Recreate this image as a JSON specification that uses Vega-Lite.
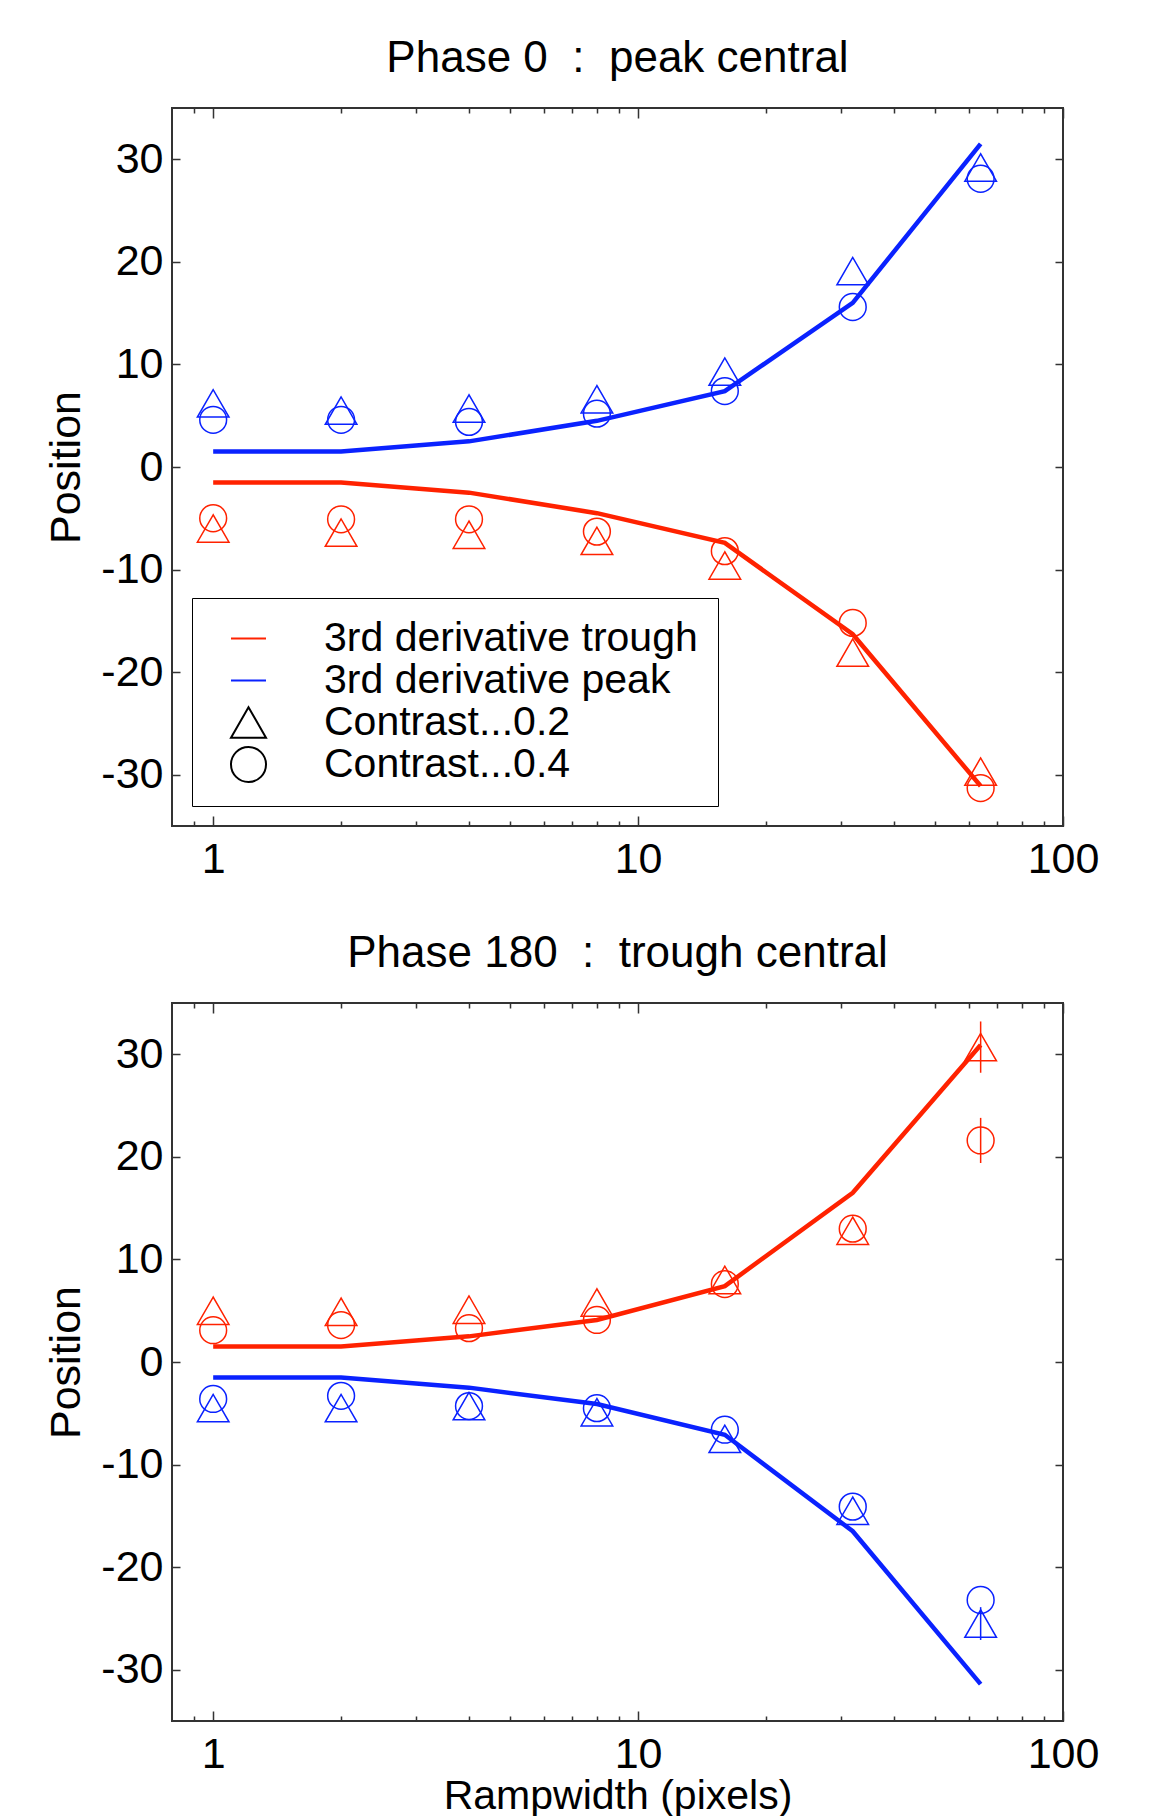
{
  "$schema": "https://vega.github.io/schema/vega-lite/v6.json",
  "background": "white",
  "padding": {"left": 44, "top": 36, "right": 5, "bottom": 0},
  "config": {
    "font": "Liberation Sans",
    "view": {"stroke": "#333333", "strokeWidth": 2},
    "axis": {"domain": false, "ticks": false, "labelFont": "Liberation Sans", "labelFontSize": 43, "labelColor": "black", "titleFont": "Liberation Sans", "titleFontSize": 43, "titleFontWeight": "normal", "titleColor": "black", "gridColor": "#333333", "gridWidth": 1.5, "gridOpacity": 1},
    "title": {"font": "Liberation Sans", "fontSize": 44, "fontWeight": "normal", "color": "black"},
    "legend": {"orient": "bottom-left", "offset": 20, "symbolSize": 1225, "symbolStrokeWidth": 2, "symbolOffset": 16,
      "labelFont": "Liberation Sans", "labelFontSize": 41, "labelColor": "black", "labelLimit": 0, "labelOffset": 55,
      "rowPadding": 0, "padding": 20, "strokeColor": "black", "fillColor": "white"}
  },
  "datasets": {
    "theory": [
      {"panel": 0, "x": 1, "series": "3rd derivative trough", "y": -1.5},
      {"panel": 0, "x": 2, "series": "3rd derivative trough", "y": -1.5},
      {"panel": 0, "x": 4, "series": "3rd derivative trough", "y": -2.5},
      {"panel": 0, "x": 8, "series": "3rd derivative trough", "y": -4.5},
      {"panel": 0, "x": 16, "series": "3rd derivative trough", "y": -7.4},
      {"panel": 0, "x": 32, "series": "3rd derivative trough", "y": -16.3},
      {"panel": 0, "x": 64, "series": "3rd derivative trough", "y": -31.1},
      {"panel": 0, "x": 1, "series": "3rd derivative peak", "y": 1.5},
      {"panel": 0, "x": 2, "series": "3rd derivative peak", "y": 1.5},
      {"panel": 0, "x": 4, "series": "3rd derivative peak", "y": 2.5},
      {"panel": 0, "x": 8, "series": "3rd derivative peak", "y": 4.5},
      {"panel": 0, "x": 16, "series": "3rd derivative peak", "y": 7.4},
      {"panel": 0, "x": 32, "series": "3rd derivative peak", "y": 16.0},
      {"panel": 0, "x": 64, "series": "3rd derivative peak", "y": 31.5},
      {"panel": 180, "x": 1, "series": "3rd derivative trough", "y": 1.5},
      {"panel": 180, "x": 2, "series": "3rd derivative trough", "y": 1.5},
      {"panel": 180, "x": 4, "series": "3rd derivative trough", "y": 2.5},
      {"panel": 180, "x": 8, "series": "3rd derivative trough", "y": 4.1},
      {"panel": 180, "x": 16, "series": "3rd derivative trough", "y": 7.4},
      {"panel": 180, "x": 32, "series": "3rd derivative trough", "y": 16.5},
      {"panel": 180, "x": 64, "series": "3rd derivative trough", "y": 30.9},
      {"panel": 180, "x": 1, "series": "3rd derivative peak", "y": -1.5},
      {"panel": 180, "x": 2, "series": "3rd derivative peak", "y": -1.5},
      {"panel": 180, "x": 4, "series": "3rd derivative peak", "y": -2.5},
      {"panel": 180, "x": 8, "series": "3rd derivative peak", "y": -4.1},
      {"panel": 180, "x": 16, "series": "3rd derivative peak", "y": -7.1},
      {"panel": 180, "x": 32, "series": "3rd derivative peak", "y": -16.5},
      {"panel": 180, "x": 64, "series": "3rd derivative peak", "y": -31.4}
    ],
    "obs": [
      {"panel": 0, "x": 1, "series": "3rd derivative peak", "contrast": "Contrast...0.2", "y": 6.2},
      {"panel": 0, "x": 2, "series": "3rd derivative peak", "contrast": "Contrast...0.2", "y": 5.5},
      {"panel": 0, "x": 4, "series": "3rd derivative peak", "contrast": "Contrast...0.2", "y": 5.7},
      {"panel": 0, "x": 8, "series": "3rd derivative peak", "contrast": "Contrast...0.2", "y": 6.6},
      {"panel": 0, "x": 16, "series": "3rd derivative peak", "contrast": "Contrast...0.2", "y": 9.3},
      {"panel": 0, "x": 32, "series": "3rd derivative peak", "contrast": "Contrast...0.2", "y": 19.1},
      {"panel": 0, "x": 64, "series": "3rd derivative peak", "contrast": "Contrast...0.2", "y": 29.2},
      {"panel": 0, "x": 1, "series": "3rd derivative peak", "contrast": "Contrast...0.4", "y": 4.6},
      {"panel": 0, "x": 2, "series": "3rd derivative peak", "contrast": "Contrast...0.4", "y": 4.6},
      {"panel": 0, "x": 4, "series": "3rd derivative peak", "contrast": "Contrast...0.4", "y": 4.4},
      {"panel": 0, "x": 8, "series": "3rd derivative peak", "contrast": "Contrast...0.4", "y": 5.2},
      {"panel": 0, "x": 16, "series": "3rd derivative peak", "contrast": "Contrast...0.4", "y": 7.4},
      {"panel": 0, "x": 32, "series": "3rd derivative peak", "contrast": "Contrast...0.4", "y": 15.6},
      {"panel": 0, "x": 64, "series": "3rd derivative peak", "contrast": "Contrast...0.4", "y": 28.1},
      {"panel": 0, "x": 1, "series": "3rd derivative trough", "contrast": "Contrast...0.2", "y": -6.0},
      {"panel": 0, "x": 2, "series": "3rd derivative trough", "contrast": "Contrast...0.2", "y": -6.4},
      {"panel": 0, "x": 4, "series": "3rd derivative trough", "contrast": "Contrast...0.2", "y": -6.6},
      {"panel": 0, "x": 8, "series": "3rd derivative trough", "contrast": "Contrast...0.2", "y": -7.2},
      {"panel": 0, "x": 16, "series": "3rd derivative trough", "contrast": "Contrast...0.2", "y": -9.6},
      {"panel": 0, "x": 32, "series": "3rd derivative trough", "contrast": "Contrast...0.2", "y": -18.1},
      {"panel": 0, "x": 64, "series": "3rd derivative trough", "contrast": "Contrast...0.2", "y": -29.7},
      {"panel": 0, "x": 1, "series": "3rd derivative trough", "contrast": "Contrast...0.4", "y": -5.0},
      {"panel": 0, "x": 2, "series": "3rd derivative trough", "contrast": "Contrast...0.4", "y": -5.1},
      {"panel": 0, "x": 4, "series": "3rd derivative trough", "contrast": "Contrast...0.4", "y": -5.1},
      {"panel": 0, "x": 8, "series": "3rd derivative trough", "contrast": "Contrast...0.4", "y": -6.3},
      {"panel": 0, "x": 16, "series": "3rd derivative trough", "contrast": "Contrast...0.4", "y": -8.2},
      {"panel": 0, "x": 32, "series": "3rd derivative trough", "contrast": "Contrast...0.4", "y": -15.2},
      {"panel": 0, "x": 64, "series": "3rd derivative trough", "contrast": "Contrast...0.4", "y": -31.3},
      {"panel": 180, "x": 1, "series": "3rd derivative trough", "contrast": "Contrast...0.2", "y": 5.0},
      {"panel": 180, "x": 2, "series": "3rd derivative trough", "contrast": "Contrast...0.2", "y": 4.9},
      {"panel": 180, "x": 4, "series": "3rd derivative trough", "contrast": "Contrast...0.2", "y": 5.1},
      {"panel": 180, "x": 8, "series": "3rd derivative trough", "contrast": "Contrast...0.2", "y": 5.8},
      {"panel": 180, "x": 16, "series": "3rd derivative trough", "contrast": "Contrast...0.2", "y": 8.0},
      {"panel": 180, "x": 32, "series": "3rd derivative trough", "contrast": "Contrast...0.2", "y": 12.8},
      {"panel": 180, "x": 64, "series": "3rd derivative trough", "contrast": "Contrast...0.2", "y": 30.7, "lo": 28.2, "hi": 33.2},
      {"panel": 180, "x": 1, "series": "3rd derivative trough", "contrast": "Contrast...0.4", "y": 3.1},
      {"panel": 180, "x": 2, "series": "3rd derivative trough", "contrast": "Contrast...0.4", "y": 3.6},
      {"panel": 180, "x": 4, "series": "3rd derivative trough", "contrast": "Contrast...0.4", "y": 3.3},
      {"panel": 180, "x": 8, "series": "3rd derivative trough", "contrast": "Contrast...0.4", "y": 4.1},
      {"panel": 180, "x": 16, "series": "3rd derivative trough", "contrast": "Contrast...0.4", "y": 7.6},
      {"panel": 180, "x": 32, "series": "3rd derivative trough", "contrast": "Contrast...0.4", "y": 13.0},
      {"panel": 180, "x": 64, "series": "3rd derivative trough", "contrast": "Contrast...0.4", "y": 21.6, "lo": 19.4, "hi": 23.8},
      {"panel": 180, "x": 1, "series": "3rd derivative peak", "contrast": "Contrast...0.2", "y": -4.5},
      {"panel": 180, "x": 2, "series": "3rd derivative peak", "contrast": "Contrast...0.2", "y": -4.5},
      {"panel": 180, "x": 4, "series": "3rd derivative peak", "contrast": "Contrast...0.2", "y": -4.3},
      {"panel": 180, "x": 8, "series": "3rd derivative peak", "contrast": "Contrast...0.2", "y": -4.9},
      {"panel": 180, "x": 16, "series": "3rd derivative peak", "contrast": "Contrast...0.2", "y": -7.5},
      {"panel": 180, "x": 32, "series": "3rd derivative peak", "contrast": "Contrast...0.2", "y": -14.5},
      {"panel": 180, "x": 64, "series": "3rd derivative peak", "contrast": "Contrast...0.2", "y": -25.5, "lo": -27.1, "hi": -23.9},
      {"panel": 180, "x": 1, "series": "3rd derivative peak", "contrast": "Contrast...0.4", "y": -3.6},
      {"panel": 180, "x": 2, "series": "3rd derivative peak", "contrast": "Contrast...0.4", "y": -3.3},
      {"panel": 180, "x": 4, "series": "3rd derivative peak", "contrast": "Contrast...0.4", "y": -4.3},
      {"panel": 180, "x": 8, "series": "3rd derivative peak", "contrast": "Contrast...0.4", "y": -4.5},
      {"panel": 180, "x": 16, "series": "3rd derivative peak", "contrast": "Contrast...0.4", "y": -6.6},
      {"panel": 180, "x": 32, "series": "3rd derivative peak", "contrast": "Contrast...0.4", "y": -14.1},
      {"panel": 180, "x": 64, "series": "3rd derivative peak", "contrast": "Contrast...0.4", "y": -23.2}
    ]
  },
  "spacing": 49,
  "resolve": {"scale": {"color": "independent", "shape": "independent", "size": "independent"}, "legend": {"color": "independent", "shape": "independent", "size": "independent"}},
  "vconcat": [
    {
      "width": 891,
      "height": 718,
      "title": {"text": "Phase 0\u00a0\u00a0:\u00a0\u00a0peak central", "offset": 27},
      "layer": [
        {
          "data": {"name": "theory"},
          "transform": [{"filter": "datum.panel == 0"}],
          "mark": {"type": "line", "strokeWidth": 4.5},
          "encoding": {
            "x": {"field": "x", "type": "quantitative", "scale": {"type": "log", "domain": [0.8, 100], "nice": false},
              "axis": {"orient": "bottom", "title": null, "values": [0.9, 1, 2, 3, 4, 5, 6, 7, 8, 9, 10, 20, 30, 40, 50, 60, 70, 80, 90, 100],
                "labelExpr": "indexof([1,10,100], datum.value) >= 0 ? datum.value + '' : ''",
                "grid": true,
                "gridDash": {"condition": {"test": "indexof([1,10,100], datum.value) >= 0", "value": [10, 698]}, "value": [5, 708]},
                "labelPadding": 12, "labelOverlap": false, "labelFlush": false}},
            "y": {"field": "y", "type": "quantitative", "scale": {"domain": [-35, 35], "nice": false, "zero": false},
              "axis": {"orient": "left", "title": "Position", "values": [-30, -20, -10, 0, 10, 20, 30], "labelExpr": "datum.value + ''",
                "grid": true, "gridDash": [8, 875], "labelPadding": 9, "titlePadding": 12}},
            "color": {"field": "series", "type": "nominal",
              "scale": {"domain": ["3rd derivative trough", "3rd derivative peak", "Contrast...0.2", "Contrast...0.4"], "range": ["#ff2200", "#0a22ff", "#000000", "#000000"]},
              "legend": {"title": null}}
          }
        },
        {
          "data": {"name": "obs"},
          "transform": [{"filter": "datum.panel == 0"}],
          "mark": {"type": "point", "filled": false, "strokeWidth": 1.5, "opacity": 1},
          "encoding": {
            "x": {"field": "x", "type": "quantitative"},
            "y": {"field": "y", "type": "quantitative"},
            "color": {"field": "series", "type": "nominal",
              "scale": {"domain": ["3rd derivative trough", "3rd derivative peak", "Contrast...0.2", "Contrast...0.4"], "range": ["#ff2200", "#0a22ff", "#000000", "#000000"]},
              "legend": {"title": null}},
            "shape": {"field": "contrast", "type": "nominal",
              "scale": {"domain": ["3rd derivative trough", "3rd derivative peak", "Contrast...0.2", "Contrast...0.4"], "range": ["stroke", "stroke", "triangle-up", "circle"]},
              "legend": {"title": null}},
            "size": {"field": "contrast", "type": "ordinal", "scale": {"domain": ["Contrast...0.2", "Contrast...0.4"], "range": [1000, 720]}, "legend": null}
          }
        }
      ]
    },
    {
      "width": 891,
      "height": 718,
      "title": {"text": "Phase 180\u00a0\u00a0:\u00a0\u00a0trough central", "offset": 27},
      "layer": [
        {
          "data": {"name": "theory"},
          "transform": [{"filter": "datum.panel == 180"}],
          "mark": {"type": "line", "strokeWidth": 4.5},
          "encoding": {
            "x": {"field": "x", "type": "quantitative", "scale": {"type": "log", "domain": [0.8, 100], "nice": false},
              "axis": {"orient": "bottom", "title": "Rampwidth (pixels)", "titlePadding": 0, "titleFontSize": 41, "values": [0.9, 1, 2, 3, 4, 5, 6, 7, 8, 9, 10, 20, 30, 40, 50, 60, 70, 80, 90, 100],
                "labelExpr": "indexof([1,10,100], datum.value) >= 0 ? datum.value + '' : ''",
                "grid": true,
                "gridDash": {"condition": {"test": "indexof([1,10,100], datum.value) >= 0", "value": [10, 698]}, "value": [5, 708]},
                "labelPadding": 12, "labelOverlap": false, "labelFlush": false}},
            "y": {"field": "y", "type": "quantitative", "scale": {"domain": [-35, 35], "nice": false, "zero": false},
              "axis": {"orient": "left", "title": "Position", "values": [-30, -20, -10, 0, 10, 20, 30], "labelExpr": "datum.value + ''",
                "grid": true, "gridDash": [8, 875], "labelPadding": 9, "titlePadding": 12}},
            "color": {"field": "series", "type": "nominal",
              "scale": {"domain": ["3rd derivative trough", "3rd derivative peak"], "range": ["#ff2200", "#0a22ff"]},
              "legend": null}
          }
        },
        {
          "data": {"name": "obs"},
          "transform": [{"filter": "datum.panel == 180"}],
          "mark": {"type": "point", "filled": false, "strokeWidth": 1.5, "opacity": 1},
          "encoding": {
            "x": {"field": "x", "type": "quantitative"},
            "y": {"field": "y", "type": "quantitative"},
            "color": {"field": "series", "type": "nominal", "legend": null},
            "shape": {"field": "contrast", "type": "nominal", "scale": {"domain": ["Contrast...0.2", "Contrast...0.4"], "range": ["triangle-up", "circle"]}, "legend": null},
            "size": {"field": "contrast", "type": "ordinal", "scale": {"domain": ["Contrast...0.2", "Contrast...0.4"], "range": [1000, 720]}, "legend": null}
          }
        },
        {
          "data": {"name": "obs"},
          "transform": [{"filter": "datum.panel == 180 && isValid(datum.lo)"}],
          "mark": {"type": "rule", "strokeWidth": 1.5},
          "encoding": {
            "x": {"field": "x", "type": "quantitative"},
            "y": {"field": "lo", "type": "quantitative"},
            "y2": {"field": "hi"},
            "color": {"field": "series", "type": "nominal", "legend": null}
          }
        }
      ]
    }
  ]
}
